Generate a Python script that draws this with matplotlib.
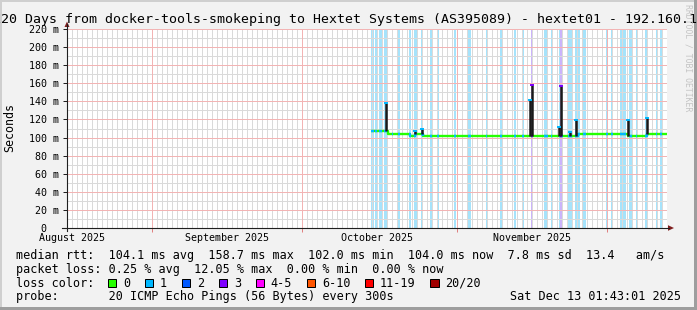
import matplotlib
matplotlib.use("Agg")
import matplotlib.pyplot as plt
import matplotlib.transforms as mtransforms
from matplotlib.patches import Polygon, Rectangle
from matplotlib.lines import Line2D
import numpy as np
import pandas as pd

W, H = 697, 310
MONO = "DejaVu Sans Mono"

# graph window
t_start = pd.Timestamp("2025-08-15 01:43")
t_end = pd.Timestamp("2025-12-13 01:43")

# median rtt in ms (step changes)
median_times = ["2025-10-14 19:40", "2025-10-18 08:10", "2025-10-22 16:20",
                "2025-10-23 16:20", "2025-10-25 04:20", "2025-11-25 06:40",
                "2025-12-05 08:10", "2025-12-09 00:30", "2025-12-13 01:43"]
median_ms = [107, 104, 102, 104, 102, 104, 102, 104, 104]

# smoke spikes
spike_times = ["2025-10-17 19:40", "2025-10-23 16:20", "2025-10-25 02:00",
               "2025-11-15 14:40", "2025-11-16 00:30", "2025-11-21 13:00",
               "2025-11-21 19:40", "2025-11-23 16:20", "2025-11-24 21:00",
               "2025-12-05 08:10", "2025-12-09 00:30"]
spike_top_ms = [139, 108, 111, 143, 159, 113, 158, 107, 120, 120, 123]
spike_loss = [1, 1, 1, 1, 3, 1, 3, 1, 1, 1, 1]

# periods with packet loss
loss_start = ["2025-10-14 20:00", "2025-10-15 16:00", "2025-10-16 11:30", "2025-10-17 13:00",
              "2025-10-19 03:20", "2025-10-20 08:10", "2025-10-22 13:00", "2025-10-23 13:00",
              "2025-10-24 19:40", "2025-10-26 16:20", "2025-10-28 03:20", "2025-10-31 13:00",
              "2025-11-03 08:10", "2025-11-06 21:00", "2025-11-09 16:20", "2025-11-12 11:30",
              "2025-11-14 03:20", "2025-11-15 21:00", "2025-11-18 13:00", "2025-11-19 21:00",
              "2025-11-21 13:00", "2025-11-21 17:00", "2025-11-23 08:10", "2025-11-24 16:20",
              "2025-11-26 08:10", "2025-11-30 21:00", "2025-12-01 21:00", "2025-12-03 16:20",
              "2025-12-05 13:00", "2025-12-06 21:00", "2025-12-08 16:20", "2025-12-10 21:00",
              "2025-12-11 16:20"]
loss_end = ["2025-10-15 11:30", "2025-10-16 03:20", "2025-10-17 02:00", "2025-10-18 00:30",
            "2025-10-19 08:10", "2025-10-20 16:20", "2025-10-22 22:30", "2025-10-24 00:30",
            "2025-10-25 08:10", "2025-10-27 00:30", "2025-10-28 11:30", "2025-10-31 21:00",
            "2025-11-03 19:40", "2025-11-07 03:20", "2025-11-10 00:30", "2025-11-12 19:40",
            "2025-11-14 11:30", "2025-11-16 08:10", "2025-11-19 05:20", "2025-11-20 03:20",
            "2025-11-22 08:10", "2025-11-22 02:00", "2025-11-24 02:00", "2025-11-25 16:20",
            "2025-11-26 19:40", "2025-12-01 05:20", "2025-12-02 05:20", "2025-12-04 21:00",
            "2025-12-06 00:30", "2025-12-07 03:20", "2025-12-09 05:20", "2025-12-11 03:20",
            "2025-12-12 00:30"]
loss_level = [1, 1, 1, 1, 1, 1, 1, 1, 1, 1, 1, 1, 1, 1, 1, 1, 1, 3, 1, 1,
              1, 3, 1, 1, 1, 1, 1, 1, 1, 1, 1, 1, 1]

loss_labels = ["0", "1", "2", "3", "4-5", "6-10", "11-19", "20/20"]
loss_colors = ["#26ff00", "#00b8ff", "#0059ff", "#7e00ff",
               "#ff00ff", "#ff5500", "#ff0000", "#a10000"]
level_color = {0: loss_colors[0], 1: loss_colors[1], 2: loss_colors[2], 3: loss_colors[3]}
band_color = {1: "#a6e3fb", 3: "#cbb4fb"}

y_ticks = list(range(0, 221, 20))
month_starts = ["2025-09-01", "2025-10-01", "2025-11-01", "2025-12-01"]
month_labels = ["August 2025", "September 2025", "October 2025", "November 2025"]
month_label_at = ["2025-08-16", "2025-09-16", "2025-10-16", "2025-11-16"]

legend_lines = [
    "median rtt:  104.1 ms avg  158.7 ms max  102.0 ms min  104.0 ms now  7.8 ms sd  13.4   am/s",
    "packet loss: 0.25 % avg  12.05 % max  0.00 % min  0.00 % now",
]
probe_text = "probe:       20 ICMP Echo Pings (56 Bytes) every 300s"
stamp_text = "Sat Dec 13 01:43:01 2025"
title = "120 Days from docker-tools-smokeping to Hextet Systems (AS395089) - hextet01 - 192.160.1"

# rrdtool colours
BACK = "#f2f2f2"
SHADE_A = "#cfcfcf"
SHADE_B = "#9e9e9e"
GRID = "#dadada"
MGRID = "#f2b4b4"
TICK_RED = "#e08080"
ARROW = (0.5, 0.12, 0.12)
AXIS = (0.12, 0.12, 0.12)

fig = plt.figure(figsize=(W / 100, H / 100), dpi=100, facecolor=BACK)
pix = mtransforms.Affine2D().scale(1.0 / W, -1.0 / H).translate(0, 1) + fig.transFigure

# frame shading
fig.add_artist(Rectangle((0, 0), W, 2, transform=pix, color=SHADE_A, lw=0))
fig.add_artist(Rectangle((0, 0), 2, H, transform=pix, color=SHADE_A, lw=0))
fig.add_artist(Rectangle((W - 3, 0), 3, H, transform=pix, color=SHADE_B, lw=0))
fig.add_artist(Rectangle((0, H - 3), W, 3, transform=pix, color=SHADE_B, lw=0))

left, right, top, bottom = 67, 667, 29, 228
ax = fig.add_axes([left / W, (H - bottom) / H, (right - left) / W, (bottom - top) / H])
ax.set_facecolor("white")
for s in ax.spines.values():
    s.set_visible(False)
ax.set_xlim(t_start, t_end)
ax.set_ylim(0, 220)

# loss background bands
for s, e, lv in zip(loss_start, loss_end, loss_level):
    ax.axvspan(pd.Timestamp(s), pd.Timestamp(e), color=band_color[lv], lw=0, zorder=1)

# grid, 1px on / 1px off like rrdtool
days = pd.date_range("2025-08-16", "2025-12-13", freq="D")
ms = pd.to_datetime(month_starts)
minor_days = [d for d in days if d not in ms]
dash = dict(lw=0.72, linestyle=(0, (1, 1)), zorder=2, antialiased=False)
ax.vlines(minor_days, 0, 220, color=GRID, **dash)
ax.hlines(range(10, 221, 20), t_start, t_end, color=GRID, **dash)
ax.hlines(range(20, 221, 20), t_start, t_end, color=MGRID, **dash)
ax.vlines(ms, 0, 220, color=MGRID, **dash)

# median line coloured by loss
med_t = pd.to_datetime(median_times)
med_v = np.array(median_ms, dtype=float)
ax.plot(med_t, med_v, drawstyle="steps-post", color=loss_colors[0], lw=1.7,
        solid_capstyle="butt", zorder=4)


def median_at(t):
    i = np.searchsorted(med_t, t, side="right") - 1
    return med_v[max(i, 0)]


for s, e, lv in zip(loss_start, loss_end, loss_level):
    s, e = pd.Timestamp(s), pd.Timestamp(e)
    inner = [t for t in med_t if s < t < e]
    ts = [s] + inner + [e]
    vs = [median_at(t) for t in ts]
    ax.plot(ts, vs, drawstyle="steps-post", color=level_color[lv], lw=1.7,
            solid_capstyle="butt", zorder=5)

# smoke spikes
sp_t = pd.to_datetime(spike_times)
base = [median_at(t) for t in sp_t]
ax.vlines(sp_t, base, spike_top_ms, color="#1a1a1a", lw=1.8, zorder=6)
for t, v, lv in zip(sp_t, spike_top_ms, spike_loss):
    ax.plot([t], [v - 1], marker="_", ms=2.2, mew=1.4, color=level_color[lv], zorder=7)

# ticks
ax.set_yticks(y_ticks)
ax.set_yticklabels([f"{v} m" if v else "0  " for v in y_ticks], fontfamily=MONO, fontsize=7.2)
ax.tick_params(axis="y", length=3, width=0.72, color=AXIS, pad=2.6)
ax.set_xticks(ms)
ax.set_xticklabels([])
ax.tick_params(axis="x", length=3, width=0.72, color=TICK_RED)

xlab = mtransforms.blended_transform_factory(ax.transData, pix)
for lab, at in zip(month_labels, month_label_at):
    ax.text(pd.Timestamp(at), 241, lab, transform=xlab, ha="center", va="baseline",
            fontfamily=MONO, fontsize=7.2)

# axes with arrows
fig.add_artist(Line2D([left, left], [231, 24], transform=pix, color=AXIS, lw=0.8))
fig.add_artist(Line2D([62, 669], [bottom, bottom], transform=pix, color=AXIS, lw=0.8))
fig.add_artist(Polygon([[left - 2.5, 27], [left + 2.5, 27], [left, 21.5]], transform=pix,
                       color=ARROW, lw=0))
fig.add_artist(Polygon([[668, bottom - 2.8], [668, bottom + 2.8], [674, bottom]], transform=pix,
                       color=ARROW, lw=0))

# texts
fig.text(-7 / W, 1 - 23 / H, title, ha="left", va="baseline", fontfamily=MONO, fontsize=9.57)
fig.text(10 / W, 1 - 128 / H, "Seconds", rotation=90, ha="center", va="center",
         fontfamily=MONO, fontsize=8.4)
fig.text(688 / W, 1 - 4 / H, "RRDTOOL / TOBI OETIKER", rotation=270, ha="center", va="top",
         fontfamily=MONO, fontsize=5.9, color="#c4c4c4")

fs = 8.43
cw = fs * 100 / 72 * 0.602
rows = [259, 273, 287, 300]
for y, line in zip(rows[:2], legend_lines):
    fig.text(16 / W, 1 - y / H, line, ha="left", va="baseline", fontfamily=MONO, fontsize=fs)
fig.text(16 / W, 1 - rows[2] / H, "loss color:", ha="left", va="baseline",
         fontfamily=MONO, fontsize=fs)
x = 16 + 13 * cw
for lab, col in zip(loss_labels, loss_colors):
    fig.add_artist(Rectangle((x, rows[2] - 8.5), 8.5, 8.5, transform=pix, facecolor=col,
                             edgecolor="black", lw=0.72))
    fig.text((x + 2.15 * cw) / W, 1 - rows[2] / H, lab, ha="left", va="baseline",
             fontfamily=MONO, fontsize=fs)
    x += (4.25 + len(lab)) * cw
fig.text(16 / W, 1 - rows[3] / H, probe_text, ha="left", va="baseline", fontfamily=MONO, fontsize=fs)
fig.text(681 / W, 1 - rows[3] / H, stamp_text, ha="right", va="baseline", fontfamily=MONO, fontsize=fs)

fig.savefig("out.png", dpi=100, facecolor=BACK)
